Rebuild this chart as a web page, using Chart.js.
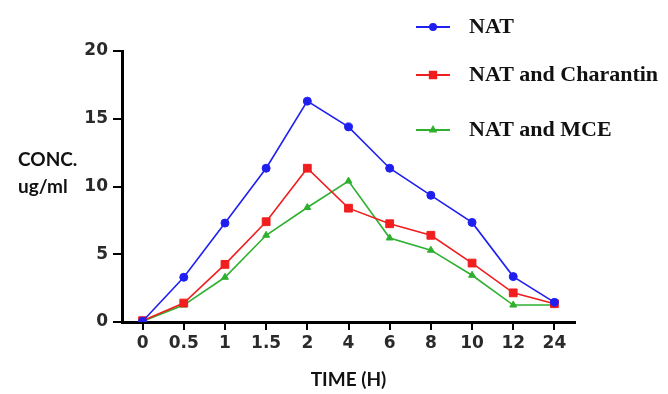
<!DOCTYPE html>
<html>
<head>
<meta charset="utf-8">
<script src="https://cdn.jsdelivr.net/npm/chart.js@4.4.1/dist/chart.umd.min.js"></script>
<style>
  html, body { margin: 0; padding: 0; background: #fff; }
  #wrap { width: 668px; height: 394px; position: relative; }
</style>
</head>
<body>
<div id="wrap"><canvas id="concChart" width="668" height="394"></canvas></div>
<script>
// time points (hours) and plasma concentrations (ug/ml)
const times = ['0', '0.5', '1', '1.5', '2', '4', '6', '8', '10', '12', '24'];
const nat = [0.05, 3.3, 7.3, 11.35, 16.3, 14.4, 11.35, 9.35, 7.35, 3.35, 1.45];
const natCharantin = [0.1, 1.4, 4.25, 7.4, 11.35, 8.4, 7.25, 6.4, 4.35, 2.15, 1.35];
const natMce = [0.05, 1.25, 3.3, 6.4, 8.45, 10.4, 6.2, 5.3, 3.45, 1.25, 1.25];
const yTicks = [0, 5, 10, 15, 20];

const seriesNames = ['NAT', 'NAT and Charantin', 'NAT and MCE'];
const seriesColors = ['#1f1ff0', '#f01e1e', '#2eb02e'];
const seriesPoints = ['circle', 'rect', 'triangle'];
const seriesRadius = [4, 5.5, 4];

// horizontal y-axis title, drawn left of the axis
const yTitlePlugin = {
  id: 'yTitle',
  afterDraw(chart) {
    const { ctx } = chart;
    ctx.save();
    ctx.font = 'bold 19px Lato, "Open Sans", sans-serif';
    ctx.fillStyle = '#111';
    ctx.textAlign = 'left';
    ctx.textBaseline = 'middle';
    ctx.fillText('CONC.', 18, 160);
    ctx.fillText('ug/ml', 18, 187);
    ctx.restore();
  },
};

// legend in the top-right corner, line sample + marker + serif label
const legendPlugin = {
  id: 'cornerLegend',
  afterDraw(chart) {
    const { ctx } = chart;
    const rows = [27, 75, 130];
    ctx.save();
    chart.data.datasets.forEach((ds, i) => {
      const y = rows[i];
      ctx.strokeStyle = ds.borderColor;
      ctx.lineWidth = 2;
      ctx.beginPath();
      ctx.moveTo(416, y);
      ctx.lineTo(450, y);
      ctx.stroke();
      ctx.fillStyle = ds.borderColor;
      Chart.helpers.drawPoint(ctx, { pointStyle: ds.pointStyle, radius: ds.pointRadius - 1, borderWidth: 1 }, 433, y);
      ctx.fillStyle = '#111';
      ctx.font = 'bold 22px "Liberation Serif", "Times New Roman", serif';
      ctx.textAlign = 'left';
      ctx.textBaseline = 'middle';
      ctx.fillText(ds.label, 469, y);
    });
    ctx.restore();
  },
};

const makeSet = (data, i) => ({
  label: seriesNames[i],
  data,
  borderColor: seriesColors[i],
  backgroundColor: seriesColors[i],
  borderWidth: 1.6,
  pointStyle: seriesPoints[i],
  pointRadius: seriesRadius[i],
  pointBorderWidth: 1,
  tension: 0,
});

new Chart(document.getElementById('concChart'), {
  type: 'line',
  data: {
    labels: times,
    datasets: [makeSet(nat, 0), makeSet(natCharantin, 1), makeSet(natMce, 2)],
  },
  options: {
    responsive: false,
    animation: false,
    layout: { padding: { left: 0, right: 93, top: 51, bottom: 0 } },
    plugins: {
      legend: { display: false },
      tooltip: { enabled: false },
    },
    scales: {
      x: {
        type: 'category',
        offset: true,
        afterFit: (scale) => { scale.height = 72; },
        border: { display: true, color: '#000', width: 3 },
        grid: { drawOnChartArea: false, drawTicks: true, tickLength: 8, color: '#000', lineWidth: 2 },
        ticks: {
          color: '#2a2a2a',
          padding: 3,
          maxRotation: 0,
          autoSkip: false,
          font: { family: '"DejaVu Sans", sans-serif', weight: 'bold', size: 17 },
        },
        title: {
          display: true,
          text: 'TIME (H)',
          color: '#111',
          font: { family: 'Lato, "Open Sans", sans-serif', weight: 'bold', size: 19 },
          padding: { top: 0, bottom: 3 },
        },
      },
      y: {
        min: 0,
        max: 20,
        afterFit: (scale) => { scale.width = 122; },
        afterBuildTicks: (scale) => { scale.ticks = yTicks.map((v) => ({ value: v })); },
        border: { display: true, color: '#000', width: 3 },
        grid: { drawOnChartArea: false, drawTicks: true, tickLength: 9, color: '#000', lineWidth: 2 },
        ticks: {
          color: '#2a2a2a',
          padding: 5,
          font: { family: '"DejaVu Sans", sans-serif', weight: 'bold', size: 17 },
        },
      },
    },
  },
  plugins: [yTitlePlugin, legendPlugin],
});
</script>
</body>
</html>
